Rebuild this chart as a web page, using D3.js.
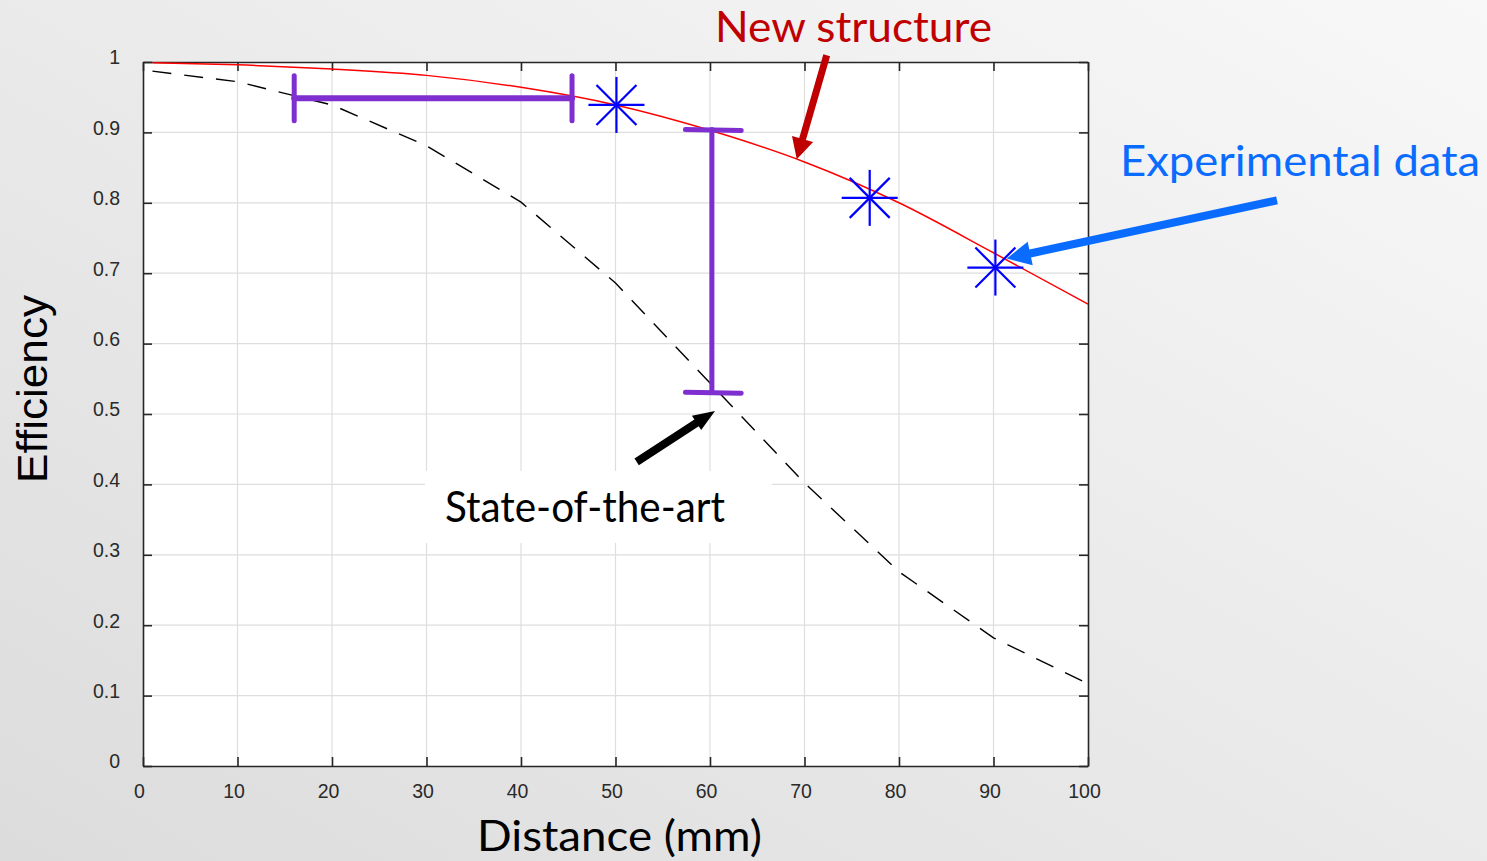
<!DOCTYPE html>
<html>
<head>
<meta charset="utf-8">
<script src="https://cdn.jsdelivr.net/npm/d3@7"></script>
<style>
  html, body { margin: 0; padding: 0; overflow: hidden; }
  svg { display: block; }
</style>
</head>
<body>
<svg id="chart" width="1487" height="861"></svg>
<script>
// ---------- data ----------
const distance = [1, 10, 20, 30, 40, 50, 60, 70, 80, 90, 100];
const newStructure = [0.999, 0.996, 0.990, 0.981, 0.964, 0.939, 0.903, 0.858, 0.800, 0.729, 0.656];
const stateOfTheArt = [0.987, 0.972, 0.939, 0.881, 0.801, 0.686, 0.544, 0.402, 0.276, 0.182, 0.117];
const expDistance = [50.1, 76.9, 90.2];
const expEfficiency = [0.939, 0.807, 0.708];
const xTicks = [0, 10, 20, 30, 40, 50, 60, 70, 80, 90, 100];
const yTicks = [0, 0.1, 0.2, 0.3, 0.4, 0.5, 0.6, 0.7, 0.8, 0.9, 1];
// annotation gaps (purple brackets)
const hGap = { x1: 16.0, x2: 45.4, y: 0.9485, cap: 0.032 };
const vGap = { x: 60.2, y1: 0.904, y2: 0.531, capL: 57.4, capR: 63.3 };

// ---------- setup ----------
const W = 1487, H = 861;
const svg = d3.select("#chart");
const x = d3.scaleLinear().domain([0, 100]).range([143, 1088]);
const y = d3.scaleLinear().domain([0, 1]).range([766, 62]);

// background
const defs = svg.append("defs");
const bg = defs.append("linearGradient").attr("id", "bg")
  .attr("x1", "100%").attr("y1", "0%").attr("x2", "0%").attr("y2", "100%");
bg.append("stop").attr("offset", "0%").attr("stop-color", "#f8f8f8");
bg.append("stop").attr("offset", "100%").attr("stop-color", "#dcdcdc");
svg.append("rect").attr("width", W).attr("height", H).attr("fill", "url(#bg)");

// plot area
svg.append("rect").attr("x", x(0)).attr("y", y(1))
  .attr("width", x(100) - x(0)).attr("height", y(0) - y(1)).attr("fill", "#ffffff");

// grid
const grid = svg.append("g").attr("stroke", "#dedede").attr("stroke-width", 1.2);
grid.selectAll(".gx").data(xTicks.slice(1, -1)).join("line")
  .attr("x1", d => x(d)).attr("x2", d => x(d)).attr("y1", y(0)).attr("y2", y(1));
grid.selectAll(".gy").data(yTicks.slice(1, -1)).join("line")
  .attr("y1", d => y(d)).attr("y2", d => y(d)).attr("x1", x(0)).attr("x2", x(100));

// axes (MATLAB box style, inward ticks)
const axCol = "#262626";
const tickFont = "'Liberation Sans', Arial, sans-serif";
const gB = svg.append("g").attr("transform", `translate(0,${y(0)})`)
  .call(d3.axisBottom(x).tickValues(xTicks).tickSizeInner(-9).tickSizeOuter(0).tickPadding(18));
const gT = svg.append("g").attr("transform", `translate(0,${y(1)})`)
  .call(d3.axisTop(x).tickValues(xTicks).tickSizeInner(-9).tickSizeOuter(0).tickFormat(""));
const gL = svg.append("g").attr("transform", `translate(${x(0)},0)`)
  .call(d3.axisLeft(y).tickValues(yTicks).tickSizeInner(-9).tickSizeOuter(0).tickPadding(23)
    .tickFormat(d => d === 0 ? "0" : d === 1 ? "1" : d3.format(".1f")(d)));
const gR = svg.append("g").attr("transform", `translate(${x(100)},0)`)
  .call(d3.axisRight(y).tickValues(yTicks).tickSizeInner(-9).tickSizeOuter(0).tickFormat(""));
[gB, gT, gL, gR].forEach(g => {
  g.select(".domain").attr("stroke", axCol).attr("stroke-width", 1.6);
  g.selectAll(".tick line").attr("stroke", axCol).attr("stroke-width", 1.6);
  g.selectAll(".tick text").attr("fill", "#2a2a2a").style("font-family", tickFont).style("font-size", "19.5px");
});
gB.selectAll(".tick text").attr("dx", -4);
gL.selectAll(".tick text").attr("dy", "0.1em");

// white label box for State-of-the-art
svg.append("rect").attr("x", 425).attr("y", 471).attr("width", 347).attr("height", 72).attr("fill", "#ffffff");

// curves
const line = d3.line().x(d => x(d[0])).y(d => y(d[1]));
svg.append("path").datum(distance.map((d, i) => [d, stateOfTheArt[i]]))
  .attr("d", line).attr("fill", "none").attr("stroke", "#000").attr("stroke-width", 1.4)
  .attr("stroke-dasharray", "19,13");
svg.append("path").datum(distance.map((d, i) => [d, newStructure[i]]))
  .attr("d", line.curve(d3.curveMonotoneX)).attr("fill", "none").attr("stroke", "#ff0000").attr("stroke-width", 1.5);

// purple brackets
const purple = "#7f2fd0";
const pg = svg.append("g").attr("stroke", purple).attr("stroke-linecap", "round").attr("fill", "none");
pg.append("line").attr("x1", x(hGap.x1)).attr("x2", x(hGap.x2)).attr("y1", y(hGap.y)).attr("y2", y(hGap.y)).attr("stroke-width", 6);
[hGap.x1, hGap.x2].forEach(v => pg.append("line").attr("x1", x(v)).attr("x2", x(v))
  .attr("y1", y(hGap.y + hGap.cap)).attr("y2", y(hGap.y - hGap.cap)).attr("stroke-width", 5));
pg.append("line").attr("x1", x(vGap.x)).attr("x2", x(vGap.x)).attr("y1", y(vGap.y1)).attr("y2", y(vGap.y2)).attr("stroke-width", 5);
[vGap.y1, vGap.y2].forEach(v => pg.append("line").attr("x1", x(vGap.capL)).attr("x2", x(vGap.capR))
  .attr("y1", y(v)).attr("y2", y(v) + 1).attr("stroke-width", 5));

// experimental data asterisks
const star = svg.append("g").attr("stroke", "#0000ff").attr("stroke-width", 2.2);
expDistance.forEach((d, i) => {
  const cx = x(d), cy = y(expEfficiency[i]);
  const a = 28, b = 20;
  star.append("line").attr("x1", cx - a).attr("x2", cx + a).attr("y1", cy).attr("y2", cy);
  star.append("line").attr("x1", cx).attr("x2", cx).attr("y1", cy - a).attr("y2", cy + a);
  star.append("line").attr("x1", cx - b).attr("x2", cx + b).attr("y1", cy - b).attr("y2", cy + b);
  star.append("line").attr("x1", cx - b).attr("x2", cx + b).attr("y1", cy + b).attr("y2", cy - b);
});

// arrows
function arrow(tail, tip, shaft, headLen, headHalf, color) {
  const [x0, y0] = [x(tail[0]), y(tail[1])];
  const [x1, y1] = [x(tip[0]), y(tip[1])];
  const dx = x1 - x0, dy = y1 - y0, L = Math.hypot(dx, dy);
  const ux = dx / L, uy = dy / L, nx = -uy, ny = ux;
  const bx = x1 - ux * headLen, by = y1 - uy * headLen;
  const s = shaft / 2;
  const pts = [
    [x0 + nx * s, y0 + ny * s], [bx + nx * s, by + ny * s], [bx + nx * headHalf, by + ny * headHalf],
    [x1, y1], [bx - nx * headHalf, by - ny * headHalf], [bx - nx * s, by - ny * s], [x0 - nx * s, y0 - ny * s]
  ];
  svg.append("polygon").attr("points", pts.map(p => p.join(",")).join(" ")).attr("fill", color);
}
arrow([72.35, 1.0095], [69.18, 0.862], 7, 21, 11, "#c00000");
arrow([120.0, 0.8035], [91.4, 0.7208], 8, 24, 12, "#0a6cff");
arrow([52.24, 0.432], [60.53, 0.5044], 8, 22, 8.5, "#000000");

// text helper: fit text into target width
function label(txt, px, py, size, color, family, targetW, rotate) {
  const t = svg.append("text").text(txt).attr("fill", color)
    .style("font-family", family).style("font-size", size + "px");
  if (rotate) {
    t.attr("transform", `translate(${px},${py}) rotate(-90)`).attr("text-anchor", "middle");
  } else {
    t.attr("x", px).attr("y", py);
  }
  const w = t.node().getComputedTextLength();
  if (targetW && Math.abs(w - targetW) > 3) {
    t.attr("textLength", targetW).attr("lengthAdjust", "spacingAndGlyphs");
  }
  return t;
}
const annFont = "Lato, 'Open Sans', sans-serif";
label("New structure", 715, 42, 42, "#c00000", annFont, 277);
label("Experimental data", 1120, 176, 42, "#0a6cff", annFont, 360);
label("State-of-the-art", 445, 522, 42, "#000000", annFont, 280);
label("Distance (mm)", 477, 851, 42, "#000000", annFont, 285);
label("Efficiency", 47, 389, 43, "#000000", "'Liberation Sans', Arial, sans-serif", 188, true);
</script>
</body>
</html>
